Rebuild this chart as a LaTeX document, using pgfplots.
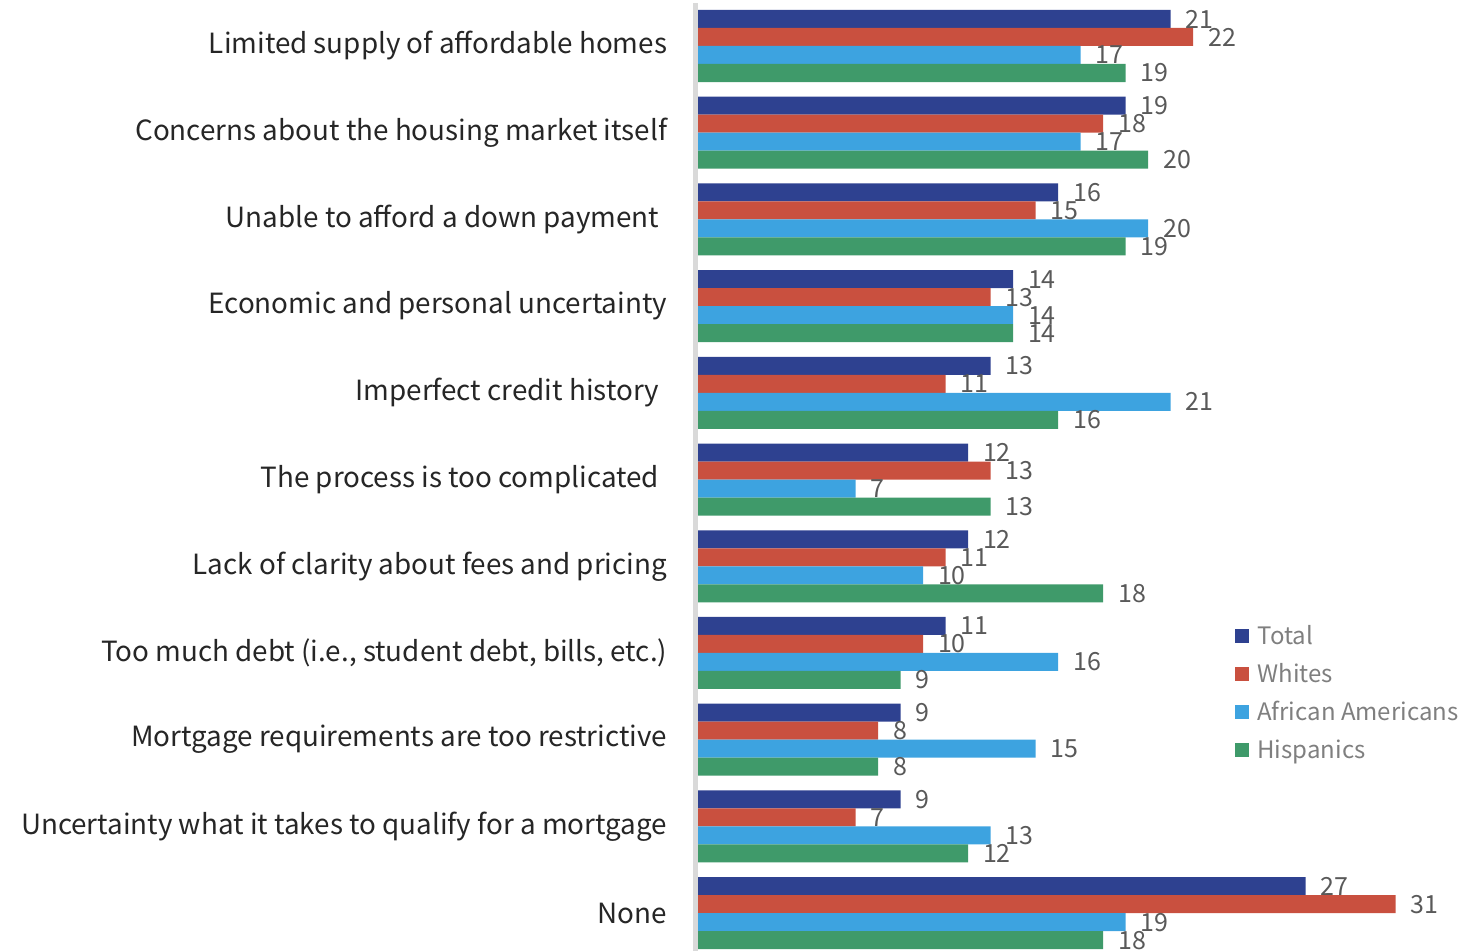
\documentclass[border=0pt]{standalone}
\usepackage{pgfplots}
\pgfplotsset{compat=1.18}
\usepackage{fontspec}
\setmainfont{Noto Sans CJK JP}
\definecolor{cTotal}{HTML}{2E4190}
\definecolor{cWhite}{HTML}{C9503F}
\definecolor{cAA}{HTML}{3DA3E0}
\definecolor{cHisp}{HTML}{3F9A6A}
\definecolor{axgray}{HTML}{D9D9D9}
\definecolor{numgray}{HTML}{595959}
\definecolor{leggray}{HTML}{7F7F7F}
\definecolor{labblack}{HTML}{262626}
\begin{document}
\begin{tikzpicture}
\begin{axis}[
 x=11.25pt, y=43.35pt,
 xmin=-0.11, xmax=34.4, ymin=-0.5, ymax=10.5,
 xbar, bar width=9pt,
 /pgf/number format/assume math mode=true,
 axis x line=none,
 axis y line*=left,
 y axis line style={draw=axgray, line width=2.5pt},
 ytick={0,...,10},
 yticklabels={None,
  Uncertainty what it takes to qualify for a mortgage,
  Mortgage requirements are too restrictive,
  {Too much debt (i.e., student debt, bills, etc.)},
  Lack of clarity about fees and pricing,
  The process is too complicated\rule{4pt}{0pt},
  Imperfect credit history\rule{4pt}{0pt},
  Economic and personal uncertainty,
  Unable to afford a down payment\rule{4pt}{0pt},
  Concerns about the housing market itself,
  Limited supply of affordable homes},
 major tick length=0pt,
 tick style={draw=none},
 yticklabel style={font=\fontsize{13.9}{16}\selectfont, text=labblack, inner sep=0pt, xshift=-14pt},
 nodes near coords,
 every node near coord/.append style={font=\fontsize{12.5}{14}\selectfont, text=numgray, xshift=4pt},
 legend style={at={(axis cs:23.6,3.42)}, anchor=north west, draw=none, fill=none,
   font=\fontsize{12}{14}\selectfont, text=leggray, row sep=4pt,
   nodes={inner xsep=4pt}},
 legend cell align=left,
 legend image code/.code={\fill[#1,/tikz/.cd] (0pt,-3.5pt) rectangle (7pt,3.5pt);},
]
\addplot[fill=cTotal, draw=none, bar shift=13.5pt] coordinates {(21,10) (19,9) (16,8) (14,7) (13,6) (12,5) (12,4) (11,3) (9,2) (9,1) (27,0)};
\addplot[fill=cWhite, draw=none, bar shift=4.5pt] coordinates {(22,10)(18,9)(15,8)(13,7)(11,6)(13,5)(11,4)(10,3)(8,2)(7,1)(31,0)};
\addplot[fill=cAA, draw=none, bar shift=-4.5pt] coordinates {(17,10)(17,9)(20,8)(14,7)(21,6)(7,5)(10,4)(16,3)(15,2)(13,1)(19,0)};
\addplot[fill=cHisp, draw=none, bar shift=-13.5pt] coordinates {(19,10)(20,9)(19,8)(14,7)(16,6)(13,5)(18,4)(9,3)(8,2)(12,1)(18,0)};
\legend{Total, Whites, African Americans, Hispanics}
\coordinate (bbA) at (axis cs:-31.02,10.5306);
\coordinate (bbB) at (axis cs:34.44,-0.4268);
\end{axis}
\pgfresetboundingbox
\path[use as bounding box] (bbA) rectangle (bbB);
\end{tikzpicture}
\end{document}
